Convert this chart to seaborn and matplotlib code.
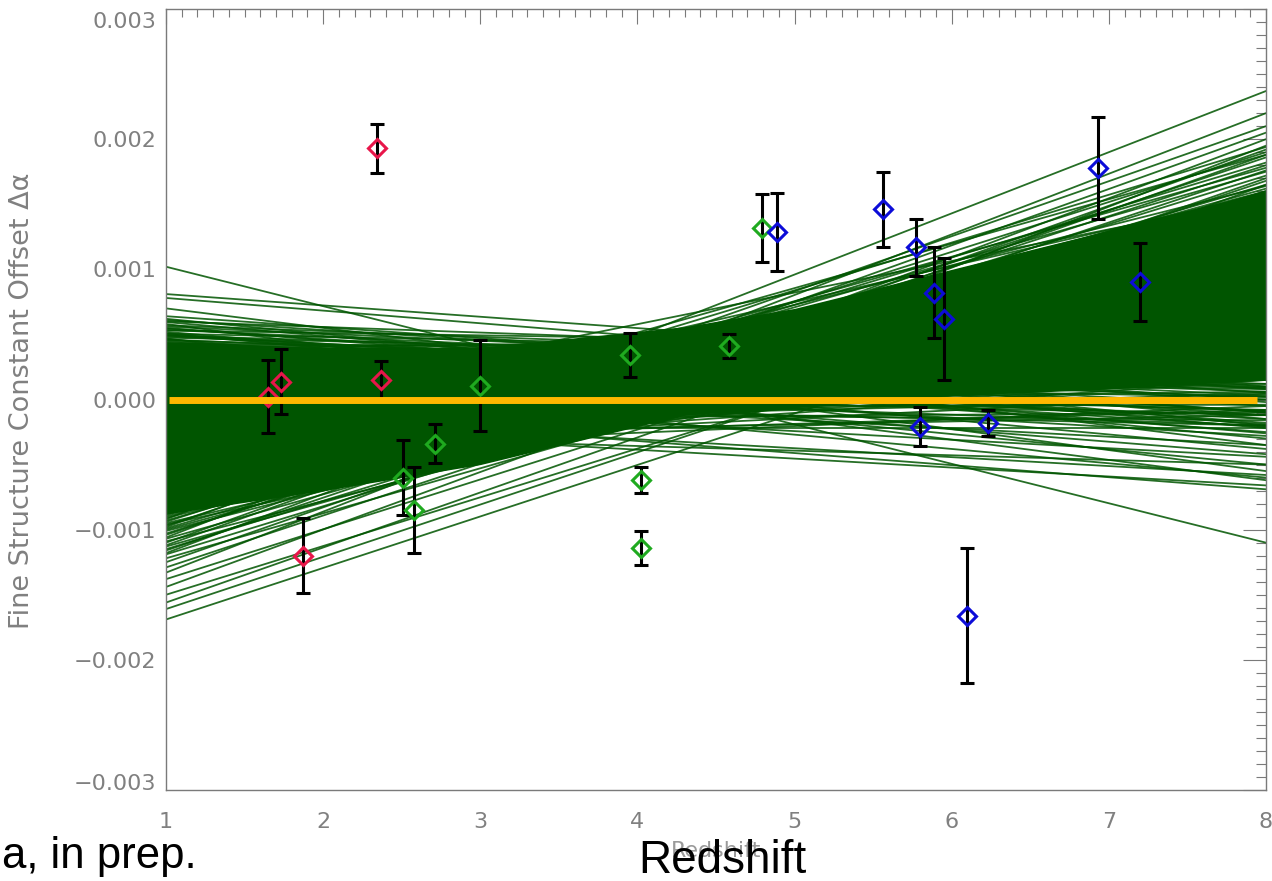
import matplotlib
matplotlib.use("Agg")
import matplotlib.pyplot as plt
import matplotlib.transforms as mtransforms
from matplotlib.ticker import FixedLocator, MultipleLocator
import pandas as pd
import seaborn as sns

# ---- absorber measurements (redshift, fine-structure offset, 1-sigma error) ----
red_z = [1.65, 1.73, 1.87, 2.34, 2.37]
red_da = [0.00002, 0.000138, -0.00120, 0.00193, 0.000146]
red_err = [0.00028, 0.00025, 0.00029, 0.00019, 0.00015]

green_z = [2.51, 2.58, 2.71, 3.00, 3.95, 4.02, 4.02, 4.58, 4.79]
green_da = [-0.00060, -0.00085, -0.00034, 0.000107, 0.00034, -0.00062, -0.00114, 0.00041, 0.00132]
green_err = [0.00029, 0.00033, 0.00015, 0.00035, 0.00017, 0.00010, 0.00013, 0.00009, 0.00026]

blue_z = [4.89, 5.56, 5.77, 5.89, 5.95, 5.80, 6.23, 6.10, 6.93, 7.20]
blue_da = [0.00129, 0.00146, 0.00117, 0.00082, 0.00062, -0.00021, -0.00018, -0.00166, 0.00178, 0.00090]
blue_err = [0.00030, 0.00029, 0.00022, 0.00035, 0.00047, 0.00015, 0.00010, 0.00052, 0.00039, 0.00030]

# ---- bootstrap linear fits: offset at z=1 and at z=8 (units of 1e-4) ----
fit_z1 = [10.2, 8.1, 7.8, 7.0, 6.4, 6.2, 6.0, 5.8, 5.6, 5.5, 5.3, 5.1, 5.0, 4.9,
          4.7, 4.6, 4.5, 4.3, 4.2, 4.0, 3.9, 3.7, 3.5, 3.4, 3.2, 3.1, 3.0, 2.8,
          2.7, 2.5, 2.4, 2.2, 2.1, 2.0, 1.8, 1.7, 1.5, 1.4, 1.2, 1.1, 1.0, 0.8,
          0.7, 0.5, 0.4, 0.2, 0.1, 0.0, -0.2, -0.3, -0.5, -0.7, -0.8, -1.0, -1.1,
          -1.3, -1.5, -1.6, -1.8, -2.0, -2.1, -2.3, -2.5, -2.6, -2.8, -3.0, -3.1,
          -3.3, -3.5, -3.7, -3.8, -4.0, -4.2, -4.4, -4.6, -4.8, -5.0, -5.2, -5.4,
          -5.6, -5.8, -6.0, -6.2, -6.4, -6.6, -6.8, -7.0, -7.2, -7.4, -7.6, -7.8,
          -8.0, -8.2, -8.4, -8.6, -8.8, -9.0, -9.2, -9.4, -9.6, -9.8, -10.0,
          -10.3, -10.6, -10.9, -11.2, -11.5, -11.8, -12.2, -12.5, -12.9, -13.3,
          -13.8, -14.4, -15.0, -15.6, -16.1, -16.9,
          6.1, 5.95, 5.7, 5.45, 5.35, 5.2, 5.05, 4.95, 4.85, 4.75, 4.65, 4.55,
          4.4, 4.35, 4.25, 4.15, 4.05, 3.95, 3.85, 3.75, 3.65,
          -7.5, -7.7, -7.9, -8.1, -8.3, -8.5, -8.7, -8.9, -9.1, -9.3, -9.5,
          -9.7, -9.9, -10.1, -10.4, -10.7, -11.0, -11.3, -11.6, -11.9,
          -4.5, -3.9, -2.9, -2.2, -1.4, -0.6, 0.3, 0.9, 1.6, 2.3, 2.9, 3.3,
          -5.3, -4.1, -3.4, -1.9, -0.9, 0.6, 1.3, 2.6,
          -2.4, -3.2, -4.1, -4.9, -5.5, -6.1, -6.7, -7.3, -3.6, -5.1, -6.3,
          -2.9, -4.6, -5.9, -7.1, -8.6, -1.5,
          -2.5, -1.8, -0.4]
fit_z8 = [-11.0, 2.0, 1.0, -3.5, 0.5, -2.0, 3.0, -5.5, 1.8, -1.0, 4.0, -3.0, 0.0, 2.5,
          -6.2, 1.2, -1.8, 3.6, -0.5, -3.8, 5.0, 1.0, -2.5, 3.2, -5.0, 6.2, 0.2, -1.5,
          4.5, -4.2, 2.0, 7.0, -2.8, 0.8, 5.4, -6.0, 3.0, -0.8, 8.0, 1.5, -3.5, 6.0,
          -1.2, 4.0, 9.2, -4.4, 2.4, 7.0, -2.0, 5.0, 0.6, 10.0, 3.5, -5.8, 8.0,
          1.5, 6.0, -1.0, 11.0, 4.0, 9.0, 0.5, 7.0, 12.4, 2.5, 5.5, 10.0,
          -0.8, 8.0, 13.0, 3.5, 6.5, 11.2, 1.5, 9.0, 14.5, 5.0, 7.5, 12.0,
          3.8, 16.0, 10.0, 6.0, 13.5, 8.5, 17.5, 4.8, 11.0, 15.0, 7.8, 19.0,
          12.5, 9.6, 16.5, 21.0, 11.0, 14.0, 23.7, 18.0, 8.6, 20.5, 13.0,
          16.0, 22.0, 10.8, 18.8, 14.5, 20.0, 12.0, 17.0, 15.0, 19.5,
          13.0, 16.5, 11.2, 14.0, 12.0, 10.8,
          0.8, -1.5, 2.6, -0.2, 1.6, -2.2, 3.4, -1.0, 0.9, 2.9, -2.6, 1.9,
          0.3, -1.2, 2.2, 4.2, -0.9, 1.6, 3.0, -1.9, 0.6,
          10.4, 14.0, 8.8, 16.0, 11.8, 13.6, 9.4, 17.2, 12.2, 15.2, 10.2,
          18.6, 14.8, 11.5, 17.6, 13.2, 19.2, 12.5, 16.8, 14.0,
          2.2, 0.4, -1.2, -2.2, 2.6, -0.4, 1.2, -2.0, 0.2, -0.9, 2.4, -2.1,
          2.9, -0.5, 1.9, 0.0, -1.6, 2.8, -1.2, 0.9,
          12.8, 14.2, 13.2, 16.4, 14.0, 17.8, 15.6, 18.2, 15.8, 18.8, 19.4,
          11.4, 12.4, 13.0, 16.2, 15.0, 15.5,
          -5.0, -6.6, -6.9]

# where the fits overlap into a solid band (units of 1e-4)
band_z = [1, 2, 3, 4.3, 5, 6, 7, 8]
band_hi = [4.4, 4.0, 4.0, 5.6, 7.0, 10.0, 13.0, 16.0]
band_lo = [-8.8, -7.0, -5.0, -1.2, -0.6, 0.3, 0.8, 1.5]

# zero-offset reference
ref_z = [1.02, 7.94]
ref_da = [0.0, 0.0]

x_ticks = [1, 2, 3, 4, 5, 6, 7, 8]
x_labels = ["1", "2", "3", "4", "5", "6", "7", "8"]
y_ticks = [-0.003, -0.002, -0.001, 0.0, 0.001, 0.002, 0.003]
y_labels = ["\u22120.003", "\u22120.002", "\u22120.001", "0.000", "0.001", "0.002", "0.003"]

sns.set_theme(style="white")
plt.rcParams["font.family"] = ["DejaVu Sans"]

W, H = 1272, 881
fig = plt.figure(figsize=(W / 100, H / 100), dpi=100)
ax = fig.add_axes([166 / W, 91 / H, 1100 / W, 781 / H])

fan_color = "#005500"
axis_grey = "#7a7a7a"

# solid core of the fit ensemble
ax.fill_between(band_z, [v * 1e-4 for v in band_hi], [v * 1e-4 for v in band_lo],
                color=fan_color, lw=0, zorder=1)

rows = []
for i, (a, b) in enumerate(zip(fit_z1, fit_z8)):
    rows.append((i, 1.0, a * 1e-4))
    rows.append((i, 8.0, b * 1e-4))
fits = pd.DataFrame(rows, columns=["fit", "z", "da"])
sns.lineplot(data=fits, x="z", y="da", units="fit", estimator=None, color=fan_color,
             lw=1.3, alpha=0.85, ax=ax, legend=False, zorder=2)

samples = [
    (red_z, red_da, red_err, "#e8164a"),
    (green_z, green_da, green_err, "#1faa1f"),
    (blue_z, blue_da, blue_err, "#0c0cd8"),
]
for z, da, err, col in samples:
    ax.errorbar(z, da, yerr=err, fmt="none", ecolor="black", elinewidth=2.2,
                capsize=4.7, capthick=2.2, zorder=4)
    ax.plot(z, da, ls="none", marker="D", ms=8.7, mfc="none", mec=col, mew=2.2,
            zorder=5)

ax.plot(ref_z, ref_da, color="#ffb800", lw=5, solid_capstyle="butt", zorder=6)

ax.set_xlim(1, 8)
ax.set_ylim(-0.003, 0.003)
ax.xaxis.set_major_locator(FixedLocator(x_ticks))
ax.set_xticklabels(x_labels)
ax.xaxis.set_minor_locator(MultipleLocator(0.1))
ax.yaxis.set_major_locator(FixedLocator(y_ticks))
ax.set_yticklabels(y_labels)
ax.yaxis.set_minor_locator(MultipleLocator(0.0001))

ax.tick_params(axis="both", which="both", direction="in", top=True, right=True,
               colors=axis_grey, width=0.8, labelcolor="#808080", labelsize=16)
ax.tick_params(axis="x", which="major", length=10.8, pad=16)
ax.tick_params(axis="x", which="minor", length=5.5)
ax.tick_params(axis="y", which="major", length=16.5, pad=7)
ax.tick_params(axis="y", which="minor", length=7.4)
for sp in ax.spines.values():
    sp.set_color(axis_grey)
    sp.set_linewidth(1.0)

# end labels sit a little inside the frame
ylabs = ax.get_yticklabels()
ylabs[0].set_transform(ylabs[0].get_transform()
                       + mtransforms.ScaledTranslation(0, 8 / 100, fig.dpi_scale_trans))
ylabs[-1].set_transform(ylabs[-1].get_transform()
                        + mtransforms.ScaledTranslation(0, -11 / 100, fig.dpi_scale_trans))

ax.set_xlabel("Redshift", color="#9a9a9a", fontsize=16, labelpad=6)
ax.set_ylabel("")
fig.text(22 / W, 1 - 401 / H, "Fine Structure Constant Offset \u0394\u03b1",
         rotation=90, ha="center", va="center", color="#808080", fontsize=19.5)

fig.text(722 / W, 8 / H, "Redshift", ha="center", va="baseline", color="black",
         fontsize=33, family=["Liberation Sans", "DejaVu Sans"])
fig.text(197 / W, 13 / H, "a, in prep.", ha="right", va="baseline", color="black",
         fontsize=31.5, family=["Liberation Sans", "DejaVu Sans"])

fig.savefig("out.png", dpi=100)
